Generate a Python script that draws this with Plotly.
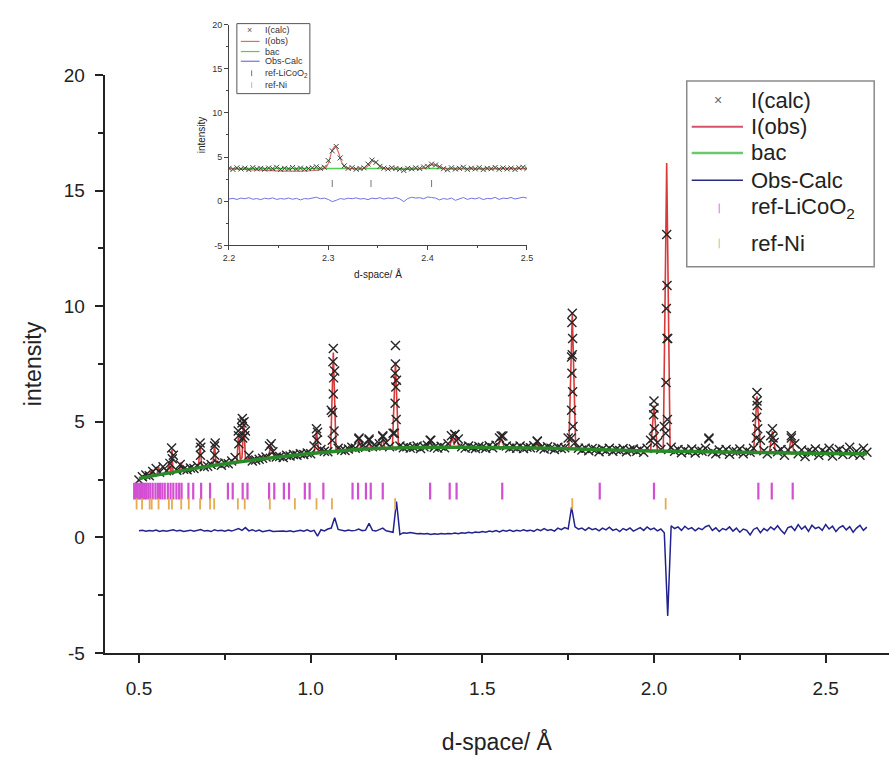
import plotly.graph_objects as go

W, H = 895, 765

# ---------------- main pattern data ----------------
d_grid = [
    0.50, 0.51, 0.52, 0.53, 0.54, 0.55, 0.56, 0.57, 0.58, 0.59,
    0.60, 0.61, 0.62, 0.63, 0.64, 0.65, 0.66, 0.67, 0.68, 0.69,
    0.70, 0.71, 0.72, 0.73, 0.74, 0.75, 0.76, 0.77, 0.78, 0.79,
    0.80, 0.81, 0.82, 0.83, 0.84, 0.85, 0.86, 0.87, 0.88, 0.89,
    0.90, 0.91, 0.92, 0.93, 0.94, 0.95, 0.96, 0.97, 0.98, 0.99,
    1.00, 1.01, 1.02, 1.03, 1.04, 1.05, 1.06, 1.07, 1.08, 1.09,
    1.10, 1.11, 1.12, 1.13, 1.14, 1.15, 1.16, 1.17, 1.18, 1.19,
    1.20, 1.21, 1.22, 1.23, 1.24, 1.25, 1.26, 1.27, 1.28, 1.29,
    1.30, 1.31, 1.32, 1.33, 1.34, 1.35, 1.36, 1.37, 1.38, 1.39,
    1.40, 1.41, 1.42, 1.43, 1.44, 1.45, 1.46, 1.47, 1.48, 1.49,
    1.50, 1.51, 1.52, 1.53, 1.54, 1.55, 1.56, 1.57, 1.58, 1.59,
    1.60, 1.61, 1.62, 1.63, 1.64, 1.65, 1.66, 1.67, 1.68, 1.69,
    1.70, 1.71, 1.72, 1.73, 1.74, 1.75, 1.76, 1.77, 1.78, 1.79,
    1.80, 1.81, 1.82, 1.83, 1.84, 1.85, 1.86, 1.87, 1.88, 1.89,
    1.90, 1.91, 1.92, 1.93, 1.94, 1.95, 1.96, 1.97, 1.98, 1.99,
    2.00, 2.01, 2.02, 2.03, 2.04, 2.05, 2.06, 2.07, 2.08, 2.09,
    2.10, 2.11, 2.12, 2.13, 2.14, 2.15, 2.16, 2.17, 2.18, 2.19,
    2.20, 2.21, 2.22, 2.23, 2.24, 2.25, 2.26, 2.27, 2.28, 2.29,
    2.30, 2.31, 2.32, 2.33, 2.34, 2.35, 2.36, 2.37, 2.38, 2.39,
    2.40, 2.41, 2.42, 2.43, 2.44, 2.45, 2.46, 2.47, 2.48, 2.49,
    2.50, 2.51, 2.52, 2.53, 2.54, 2.55, 2.56, 2.57, 2.58, 2.59,
    2.60, 2.61, 2.62,
]

calc_marks = [
    2.48, 2.62, 2.70, 2.66, 2.85, 2.98, 2.82, 3.05, 2.88, 3.20,
    3.55, 2.90, 3.15, 2.95, 2.92, 3.00, 2.98, 3.10, 3.90, 3.05,
    3.08, 3.15, 3.95, 3.20, 3.12, 3.22, 3.18, 3.30, 3.45, 4.40,
    4.95, 4.60, 3.55, 3.30, 3.35, 3.38, 3.42, 3.48, 3.95, 3.70,
    3.48, 3.50, 3.45, 3.55, 3.52, 3.58, 3.55, 3.62, 3.58, 3.65,
    3.62, 3.95, 4.55, 3.80, 3.72, 3.70, 5.50, 7.20, 3.85, 3.78,
    3.76, 3.82, 3.90, 3.85, 4.25, 3.95, 3.90, 4.20, 3.92, 3.95,
    4.05, 4.35, 4.10, 3.92, 4.50, 6.80, 3.95, 3.88, 3.92, 3.86,
    3.90, 3.95, 3.84, 3.92, 3.98, 4.20, 3.90, 3.86, 3.94, 3.88,
    4.05, 4.40, 4.45, 4.25, 3.92, 3.86, 3.95, 3.88, 3.84, 3.93,
    3.90, 3.85, 3.96, 3.88, 3.98, 4.30, 4.38, 3.95, 3.86, 3.92,
    3.85, 3.95, 3.84, 3.90, 3.88, 3.96, 4.15, 3.88, 3.82, 3.92,
    3.86, 3.80, 3.90, 3.84, 3.88, 4.30, 7.80, 4.10, 3.85, 3.78,
    3.86, 3.75, 3.84, 3.80, 3.70, 3.82, 3.75, 3.85, 3.72, 3.80,
    3.76, 3.84, 3.70, 3.78, 3.82, 3.72, 3.80, 3.68, 3.85, 4.20,
    5.60, 4.10, 3.80, 4.80, 8.60, 3.90, 3.72, 3.80, 3.66, 3.78,
    3.70, 3.82, 3.65, 3.76, 3.72, 3.85, 4.25, 3.70, 3.62, 3.78,
    3.68, 3.80, 3.60, 3.74, 3.70, 3.82, 3.62, 3.75, 3.68, 3.85,
    5.90, 4.20, 3.75, 3.62, 4.40, 4.10, 3.70, 3.80, 3.55, 3.78,
    4.30, 4.05, 3.62, 3.78, 3.50, 3.74, 3.68, 3.82, 3.55, 3.76,
    3.66, 3.85, 3.52, 3.72, 3.80, 3.58, 3.75, 3.90, 3.60, 3.72,
    3.55, 3.85, 3.68,
]

diff_vals = [
    0.28, 0.30, 0.26, 0.29, 0.27, 0.31, 0.25, 0.29, 0.26, 0.30,
    0.33, 0.27, 0.30, 0.25, 0.29, 0.31, 0.26, 0.30, 0.34, 0.27,
    0.29, 0.25, 0.33, 0.28, 0.30, 0.26, 0.31, 0.27, 0.32, 0.38,
    0.30, 0.42, 0.28, 0.33, 0.26, 0.31, 0.24, 0.27, 0.30, 0.25,
    0.26, 0.24, 0.27, 0.25, 0.28, 0.24, 0.27, 0.30, 0.26, 0.32,
    0.25, 0.30, 0.05, 0.33, 0.28, 0.36, 0.40, 0.85, 0.34, 0.30,
    0.27, 0.32, 0.28, 0.30, 0.36, 0.29, 0.31, 0.60, 0.30, 0.27,
    0.32, 0.40, 0.28, 0.25, 0.22, 1.55, 0.12, 0.20, 0.18, 0.21,
    0.17, 0.15, 0.17, 0.14, 0.16, 0.12, 0.15, 0.13, 0.16, 0.14,
    0.17, 0.15, 0.19, 0.16, 0.20, 0.18, 0.22, 0.19, 0.23, 0.21,
    0.25, 0.22, 0.27, 0.24, 0.29, 0.23, 0.30, 0.26, 0.31, 0.25,
    0.30, 0.27, 0.33, 0.28, 0.31, 0.26, 0.35, 0.29, 0.38, 0.30,
    0.34, 0.27, 0.40, 0.33, 0.42, 0.36, 1.30, 0.45, 0.35, 0.40,
    0.30, 0.42, 0.33, 0.38, 0.28, 0.40, 0.32, 0.44, 0.30, 0.36,
    0.25, 0.38, 0.31, 0.41, 0.27, 0.35, 0.42, 0.30, 0.45, 0.33,
    0.40, 0.28, 0.36, 0.20, -3.40, 0.50, 0.38, 0.45, 0.30, 0.48,
    0.35, 0.42, 0.28, 0.40, 0.33, 0.46, 0.52, 0.30, 0.41, 0.25,
    0.38, 0.32, 0.45, 0.27, 0.40, 0.22, 0.36, 0.30, 0.10, 0.34,
    0.42, 0.20, 0.38, 0.28, 0.45, 0.33, 0.50, 0.31, 0.15, 0.42,
    0.47, 0.30, 0.55, 0.35, 0.48, 0.26, 0.52, 0.38, 0.44, 0.30,
    0.55, 0.36, 0.48, 0.25, 0.42, 0.50, 0.32, 0.46, 0.22, 0.40,
    0.52, 0.30, 0.44,
]

peak_mark_d = [
    0.595, 0.597, 0.678, 0.679, 0.722, 0.721, 0.789, 0.791,
    0.801, 0.799, 0.802, 0.806, 0.808, 0.885, 1.017, 1.018,
    1.066, 1.065, 1.067, 1.066, 1.064, 1.068, 1.063,
    1.141, 1.170, 1.210,
    1.247, 1.247, 1.246, 1.248, 1.246, 1.249, 1.244,
    1.348, 1.420, 1.555, 1.660,
    1.762, 1.761, 1.763, 1.762, 1.761, 1.763, 1.760, 1.764, 1.759,
    2.000, 1.999, 2.001, 1.998,
    2.037, 2.038, 2.036, 2.038, 2.035, 2.039, 2.034,
    2.160,
    2.300, 2.301, 2.299, 2.302, 2.298,
    2.345, 2.347, 2.400,
]
peak_mark_i = [
    3.87, 3.40, 4.08, 3.55, 4.08, 3.55, 4.60, 4.05,
    5.14, 4.75, 4.30, 5.00, 4.40, 4.05, 4.70, 4.20,
    8.17, 7.60, 6.90, 6.20, 5.40, 4.60, 4.20,
    4.30, 4.25, 4.40,
    8.30, 7.50, 7.10, 6.50, 5.80, 5.10, 4.50,
    4.20, 4.45, 4.38, 4.17,
    9.70, 9.30, 8.60, 7.90, 7.10, 6.30, 5.50, 4.80, 4.30,
    5.90, 5.30, 4.70, 4.30,
    13.10, 10.90, 9.90, 8.60, 6.70, 5.10, 4.50,
    4.30,
    6.27, 5.70, 5.20, 4.70, 4.30,
    4.70, 4.30, 4.40,
]

obs_d = [
    0.500, 0.530, 0.537, 0.543, 0.552, 0.557, 0.562, 0.582, 0.587, 0.591,
    0.593, 0.596, 0.599, 0.618, 0.623, 0.627, 0.673, 0.678, 0.683, 0.700,
    0.715, 0.720, 0.725, 0.785, 0.790, 0.795, 0.800, 0.805, 0.810, 0.875,
    0.885, 0.895, 0.900, 1.000, 1.010, 1.017, 1.024, 1.058, 1.066, 1.074,
    1.100, 1.135, 1.141, 1.147, 1.164, 1.170, 1.176, 1.200, 1.204, 1.210,
    1.216, 1.238, 1.247, 1.256, 1.300, 1.340, 1.348, 1.356, 1.400, 1.405,
    1.412, 1.418, 1.424, 1.432, 1.500, 1.546, 1.555, 1.564, 1.600, 1.652,
    1.660, 1.668, 1.700, 1.752, 1.762, 1.772, 1.800, 1.900, 1.990, 2.000,
    2.010, 2.027, 2.037, 2.047, 2.100, 2.200, 2.290, 2.300, 2.311, 2.336,
    2.345, 2.354, 2.392, 2.400, 2.408, 2.500, 2.620,
]
obs_i = [
    2.55, 2.63, 2.95, 2.66, 2.68, 3.05, 2.71, 2.77, 3.20, 2.80,
    2.79, 3.80, 2.81, 2.87, 3.25, 2.89, 3.00, 4.00, 3.02, 3.07,
    3.11, 4.00, 3.13, 3.25, 4.50, 3.35, 3.45, 5.05, 3.40, 3.42,
    3.95, 3.45, 3.46, 3.63, 3.65, 4.60, 3.67, 3.70, 8.00, 3.72,
    3.76, 3.79, 4.25, 3.80, 3.81, 4.20, 3.82, 3.85, 3.85, 4.35,
    3.86, 3.87, 7.60, 3.87, 3.89, 3.89, 4.15, 3.89, 3.90, 3.90,
    4.35, 4.00, 4.40, 3.90, 3.89, 3.88, 4.35, 3.88, 3.87, 3.86,
    4.10, 3.86, 3.85, 3.85, 9.70, 3.84, 3.81, 3.77, 3.73, 5.70,
    3.73, 3.72, 16.20, 3.72, 3.71, 3.69, 3.67, 6.10, 3.67, 3.66,
    4.60, 3.66, 3.65, 4.30, 3.65, 3.63, 3.62,
]

bac_d = [0.50, 0.60, 0.70, 0.80, 0.90, 1.00, 1.10, 1.20, 1.30, 1.40, 1.50,
         1.60, 1.70, 1.80, 1.90, 2.00, 2.10, 2.20, 2.30, 2.40, 2.50, 2.62]
bac_i = [2.55, 2.82, 3.07, 3.28, 3.46, 3.63, 3.76, 3.85, 3.89, 3.90, 3.89,
         3.87, 3.85, 3.81, 3.77, 3.73, 3.71, 3.69, 3.67, 3.65, 3.63, 3.62]

licoo2_d = [
    0.486, 0.491, 0.496, 0.501, 0.506, 0.511, 0.516, 0.521, 0.527, 0.533,
    0.540, 0.548, 0.555, 0.561, 0.568, 0.575, 0.584, 0.592, 0.600, 0.609,
    0.617, 0.624, 0.644, 0.658, 0.681, 0.707, 0.759, 0.773, 0.802, 0.816,
    0.879, 0.894, 0.922, 0.937, 0.983, 0.997, 1.037, 1.122, 1.138, 1.161,
    1.175, 1.210, 1.348, 1.405, 1.425, 1.558, 1.842, 2.000, 2.304, 2.343,
    2.404,
]
ni_d = [
    0.493, 0.509, 0.531, 0.537, 0.557, 0.587, 0.596, 0.623, 0.645, 0.678,
    0.707, 0.719, 0.788, 0.808, 0.881, 0.954, 1.017, 1.062, 1.246, 1.762,
    2.034,
]
licoo2_level = 2.0
ni_level = 1.45

y_ticks = [-5, 0, 5, 10, 15, 20]
y_tick_text = ["-5", "0", "5", "10", "15", "20"]

series_names = ["I(calc)", "I(obs)", "bac", "Obs-Calc", "ref-LiCoO<sub>2</sub>", "ref-Ni"]

# ---------------- inset data (2.2 - 2.5 Å) ----------------
inset_d = [
    2.200, 2.204, 2.208, 2.212, 2.216, 2.220, 2.224, 2.228, 2.232, 2.236,
    2.240, 2.244, 2.248, 2.252, 2.256, 2.260, 2.264, 2.268, 2.272, 2.276,
    2.280, 2.284, 2.288, 2.292, 2.296, 2.300, 2.304, 2.308, 2.312, 2.316,
    2.320, 2.324, 2.328, 2.332, 2.336, 2.340, 2.344, 2.348, 2.352, 2.356,
    2.360, 2.364, 2.368, 2.372, 2.376, 2.380, 2.384, 2.388, 2.392, 2.396,
    2.400, 2.404, 2.408, 2.412, 2.416, 2.420, 2.424, 2.428, 2.432, 2.436,
    2.440, 2.444, 2.448, 2.452, 2.456, 2.460, 2.464, 2.468, 2.472, 2.476,
    2.480, 2.484, 2.488, 2.492, 2.496, 2.500,
]
inset_calc = [
    3.72, 3.60, 3.78, 3.65, 3.74, 3.58, 3.80, 3.66, 3.72, 3.62,
    3.76, 3.68, 3.84, 3.60, 3.73, 3.66, 3.82, 3.64, 3.75, 3.62,
    3.70, 3.78, 3.90, 3.72, 3.85, 4.60, 5.70, 6.20, 4.90, 4.00,
    3.72, 3.80, 3.62, 3.70, 3.78, 4.20, 4.65, 4.40, 3.95, 3.74,
    3.66, 3.80, 3.70, 3.62, 3.48, 3.72, 3.66, 3.78, 3.70, 3.88,
    3.95, 4.20, 4.10, 3.90, 3.68, 3.56, 3.78, 3.64, 3.72, 3.85,
    3.60, 3.74, 3.66, 3.80, 3.58, 3.72, 3.68, 3.82, 3.62, 3.76,
    3.66, 3.74, 3.60, 3.78, 3.84, 3.70,
]
inset_diff = [
    0.25, 0.32, 0.20, 0.35, 0.28, 0.40, 0.22, 0.30, 0.18, 0.34,
    0.26, 0.38, 0.20, 0.30, 0.24, 0.36, 0.22, 0.32, 0.15, 0.30,
    0.26, 0.38, 0.45, 0.28, 0.35, 0.20, -0.05, 0.10, 0.30, 0.22,
    0.34, 0.28, 0.38, 0.25, 0.30, 0.18, 0.35, 0.28, 0.40, 0.24,
    0.36, 0.30, 0.42, 0.26, -0.05, 0.30, 0.45, 0.35, 0.40, 0.28,
    0.48, 0.42, 0.35, 0.15, 0.30, 0.22, 0.36, 0.10, 0.28, 0.42,
    0.20, 0.34, 0.26, 0.40, 0.18, 0.32, 0.28, 0.44, 0.20, 0.35,
    0.30, 0.42, 0.25, 0.38, 0.45, 0.35,
]
inset_obs_d = [2.200, 2.296, 2.300, 2.304, 2.307, 2.310, 2.314, 2.318, 2.322,
               2.336, 2.341, 2.345, 2.349, 2.354, 2.358, 2.396, 2.401, 2.405,
               2.409, 2.414, 2.418, 2.500]
inset_obs_i = [3.70, 3.70, 4.30, 5.80, 6.20, 5.60, 4.30, 3.75, 3.70,
               3.70, 4.10, 4.55, 4.30, 3.80, 3.70, 3.70, 3.95, 4.15,
               4.05, 3.78, 3.70, 3.70]
inset_bac_d = [2.2, 2.5]
inset_bac_i = [3.70, 3.71]
inset_licoo2_d = [2.304, 2.343, 2.404]

FONT = "Arial, Liberation Sans, sans-serif"
RED, GREEN, BLUE, MARK = "#d83a3a", "#2a8a2a", "#22228f", "#262626"
MAG, ORANGE = "#d24ed2", "#e6aa50"


# pixel helpers (figure pixels -> paper fractions; margins are zero)
def fx(px):
    return px / W


def fy(py):
    return 1 - py / H


fig = go.Figure()

# main traces
fig.add_trace(go.Scatter(x=obs_d, y=obs_i, mode="lines", name=series_names[1],
                         showlegend=False, line=dict(color=RED, width=1.6)))
fig.add_trace(go.Scatter(x=d_grid + peak_mark_d, y=calc_marks + peak_mark_i, mode="markers",
                         name=series_names[0], showlegend=False,
                         marker=dict(symbol="x-thin", size=9, color=MARK,
                                     line=dict(width=1.4, color=MARK))))
fig.add_trace(go.Scatter(x=bac_d, y=bac_i, mode="lines", name=series_names[2],
                         showlegend=False, line=dict(color=GREEN, width=3.5, shape="spline")))
fig.add_trace(go.Scatter(x=d_grid, y=diff_vals, mode="lines", name=series_names[3],
                         showlegend=False, line=dict(color=BLUE, width=1.5)))
fig.add_trace(go.Scatter(x=licoo2_d, y=[licoo2_level] * len(licoo2_d), mode="markers",
                         name=series_names[4], showlegend=False,
                         marker=dict(symbol="line-ns", size=12, color=MAG,
                                     line=dict(width=2.2, color=MAG))))
fig.add_trace(go.Scatter(x=ni_d, y=[ni_level] * len(ni_d), mode="markers",
                         name=series_names[5], showlegend=False,
                         marker=dict(symbol="line-ns", size=8, color=ORANGE,
                                     line=dict(width=1.8, color=ORANGE))))

# inset traces
IR, IG, IB = "#e06a6a", "#55cc55", "#7272e6"
fig.add_trace(go.Scatter(x=inset_bac_d, y=inset_bac_i, mode="lines", xaxis="x2", yaxis="y2",
                         showlegend=False, line=dict(color=IG, width=1.5)))
fig.add_trace(go.Scatter(x=inset_obs_d, y=inset_obs_i, mode="lines", xaxis="x2", yaxis="y2",
                         showlegend=False, line=dict(color=IR, width=1.2, shape="spline")))
fig.add_trace(go.Scatter(x=inset_d, y=inset_calc, mode="markers", xaxis="x2", yaxis="y2",
                         showlegend=False,
                         marker=dict(symbol="x-thin", size=5, color="#3b4a3b",
                                     line=dict(width=1, color="#3b4a3b"))))
fig.add_trace(go.Scatter(x=inset_d, y=inset_diff, mode="lines", xaxis="x2", yaxis="y2",
                         showlegend=False, line=dict(color=IB, width=1)))
fig.add_trace(go.Scatter(x=inset_licoo2_d, y=[licoo2_level] * len(inset_licoo2_d),
                         mode="markers", xaxis="x2", yaxis="y2", showlegend=False,
                         marker=dict(symbol="line-ns", size=5, color="#777",
                                     line=dict(width=1, color="#777"))))

AX = "#222"
main_ax = dict(showline=True, linecolor=AX, linewidth=2, ticks="outside", ticklen=8,
               tickwidth=2, tickcolor=AX, showgrid=False, zeroline=False,
               tickfont=dict(family=FONT, size=19, color="#222"))
ins_ax = dict(showline=True, linecolor="#444", linewidth=1, ticks="outside", ticklen=4,
              tickwidth=1, tickcolor="#444", showgrid=False, zeroline=False,
              tickfont=dict(family=FONT, size=9, color="#333"))

fig.update_layout(
    width=W, height=H, margin=dict(l=0, r=0, t=0, b=0),
    paper_bgcolor="white", plot_bgcolor="white", showlegend=False,
    font=dict(family=FONT, color="#222"),
    xaxis=dict(domain=[fx(100), 1.0], range=[0.4, 2.6845], tick0=0.5, dtick=0.5,
               tickformat=".1f", anchor="y", ticklabelstandoff=9,
               minor=dict(ticks="outside", ticklen=5, tickwidth=2, tickcolor=AX,
                          tick0=0.25, dtick=0.25),
               title=dict(text="d-space/ Å", font=dict(family=FONT, size=23), standoff=36),
               **main_ax),
    yaxis=dict(domain=[fy(661), fy(67)], range=[-5, 20], anchor="x",
               tickmode="array", tickvals=y_ticks, ticktext=y_tick_text,
               ticklabelstandoff=6,
               minor=dict(ticks="outside", ticklen=5, tickwidth=2, tickcolor=AX, dtick=2.5),
               title=dict(text="intensity", font=dict(family=FONT, size=23), standoff=16),
               **main_ax),
    xaxis2=dict(domain=[fx(226), fx(528)], range=[2.2, 2.5], dtick=0.1, tick0=2.2,
                tickformat=".1f", anchor="y2",
                minor=dict(ticks="outside", ticklen=2, tickwidth=1, tickcolor="#444",
                           dtick=0.05, tick0=2.2),
                title=dict(text="d-space/ Å", font=dict(family=FONT, size=10), standoff=8),
                **ins_ax),
    yaxis2=dict(domain=[fy(242), fy(15)], range=[-5, 20], anchor="x2",
                tickmode="array", tickvals=y_ticks, ticktext=y_tick_text,
                minor=dict(ticks="outside", ticklen=2, tickwidth=1, tickcolor="#444", dtick=2.5),
                title=dict(text="intensity", font=dict(family=FONT, size=10), standoff=4),
                **ins_ax),
)

# ---- legends (drawn as layout decorations) ----
shapes, annos = [], []


def legend_box(left, top, right, bottom, color, width):
    shapes.append(dict(type="rect", xref="paper", yref="paper",
                       x0=fx(left), y0=fy(bottom), x1=fx(right), y1=fy(top),
                       line=dict(color=color, width=width), fillcolor="white", layer="above"))


def legend_hline(x0p, x1p, yp, color, width):
    shapes.append(dict(type="line", xref="paper", yref="paper",
                       x0=fx(x0p), y0=fy(yp), x1=fx(x1p), y1=fy(yp),
                       line=dict(color=color, width=width), layer="above"))


def legend_vline(xp, y0p, y1p, color, width):
    shapes.append(dict(type="line", xref="paper", yref="paper",
                       x0=fx(xp), y0=fy(y0p), x1=fx(xp), y1=fy(y1p),
                       line=dict(color=color, width=width), layer="above"))


def legend_text(xp, yp, txt, size, color, anchor="left"):
    annos.append(dict(x=fx(xp), y=fy(yp), xref="paper", yref="paper", text=txt,
                      showarrow=False, xanchor=anchor, yanchor="middle",
                      font=dict(family=FONT, size=size, color=color)))


# main legend
legend_box(690, 73, 880, 264, "#8a8a8a", 1.5)
main_rows = [93, 120, 147, 175, 204, 240]
legend_text(722, main_rows[0], "×", 14, "#666", anchor="center")
legend_hline(695, 747, main_rows[1], "#d8506a", 2)
legend_hline(695, 747, main_rows[2], "#6cc86c", 2.5)
legend_hline(695, 747, main_rows[3], "#2a2a80", 1.6)
legend_vline(723, main_rows[4] - 5, main_rows[4] + 5, "#e49ae4", 1.5)
legend_vline(723, main_rows[5] - 5, main_rows[5] + 5, "#d8d890", 1.5)
for name, yp in zip(series_names, main_rows):
    legend_text(753, yp, name, 22, "#222")

# inset legend
legend_box(234, 14, 308, 86, "#555", 1)
ins_rows = [21, 32.3, 42.7, 52.7, 65, 77.3]
legend_text(247, ins_rows[0], "×", 9, "#555", anchor="center")
legend_hline(238, 257, ins_rows[1], IR, 1.2)
legend_hline(238, 257, ins_rows[2], IG, 1.2)
legend_hline(238, 257, ins_rows[3], IB, 1.2)
legend_vline(249, ins_rows[4] - 3, ins_rows[4] + 3, "#777", 1)
legend_vline(249, ins_rows[5] - 3, ins_rows[5] + 3, "#bbb", 1)
for name, yp in zip(series_names, ins_rows):
    legend_text(260, yp, name, 9, "#333")

fig.update_layout(shapes=shapes, annotations=annos)

fig.write_html("out.html")
